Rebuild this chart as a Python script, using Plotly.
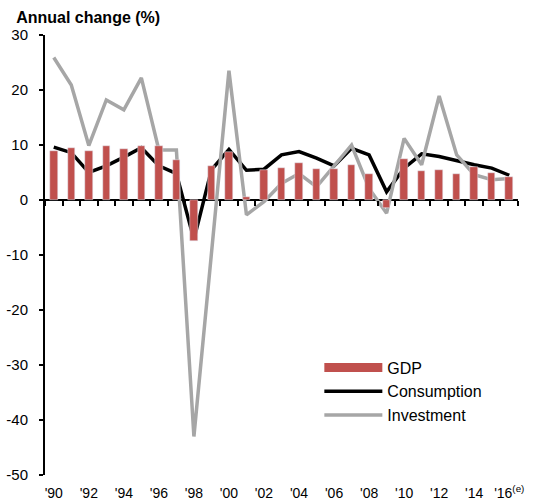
import plotly.graph_objects as go

years = list(range(1990, 2017))
gdp = [9.0, 9.5, 8.9, 9.9, 9.2, 9.8, 9.9, 7.3, -7.4, 6.2, 8.8, 0.5, 5.5, 5.8, 6.8,
       5.6, 5.6, 6.4, 4.8, -1.4, 7.5, 5.3, 5.5, 4.7, 6.0, 4.9, 4.1]
consumption = [9.6, 8.6, 5.0, 6.2, 7.8, 9.5, 6.2, 4.8, -7.2, 5.5, 9.2, 5.4, 5.6, 8.2, 8.8,
               7.6, 6.2, 9.4, 8.2, 1.5, 5.8, 8.4, 7.9, 7.1, 6.4, 5.8, 4.5]
investment = [25.9, 20.9, 9.9, 18.2, 16.4, 22.2, 9.1, 9.1, -43.0, -9.5, 23.5, -2.7, -0.3, 3.0, 4.8,
              2.4, 6.1, 10.0, 2.1, -2.4, 11.2, 6.4, 18.9, 8.2, 4.6, 3.7, 3.9]
tick_years = list(range(1990, 2017, 2))
tick_text = ["'90", "'92", "'94", "'96", "'98", "'00", "'02", "'04", "'06", "'08",
             "'10", "'12", "'14", "'16<sup>(e)</sup>"]
y_ticks = [-50, -40, -30, -20, -10, 0, 10, 20, 30]
y_text = ["-50", "-40", "-30", "-20", "-10", "0", "10", "20", "30"]

RED = "#C0504D"
GRAY = "#A6A6A6"
FONT = "Liberation Sans, Arial, sans-serif"

fig = go.Figure()
fig.add_trace(go.Bar(x=years, y=gdp, name="GDP", marker_color=RED, width=0.43,
                     showlegend=False, xaxis="x2"))
# legend swatch for GDP (wide band like the reference)
fig.add_trace(go.Scatter(x=[None], y=[None], mode="lines", name="GDP",
                         line=dict(color=RED, width=9)))
fig.add_trace(go.Scatter(x=years, y=consumption, mode="lines", name="Consumption",
                         line=dict(color="black", width=3.5)))
fig.add_trace(go.Scatter(x=years, y=investment, mode="lines", name="Investment",
                         line=dict(color=GRAY, width=3.5)))

rng = [1989.5, 2016.5]
fig.update_layout(
    width=538, height=500,
    margin=dict(l=45, r=20, t=35, b=25, autoexpand=False),
    plot_bgcolor="white", paper_bgcolor="white",
    font=dict(family=FONT, size=14, color="black"),
    title=dict(text="<b>Annual change (%)</b>", x=0.03, xanchor="left",
               y=0.966, yanchor="middle", font=dict(size=16, family=FONT)),
    bargap=0,
    xaxis=dict(range=rng, tickvals=tick_years, ticktext=tick_text, showline=False,
               showgrid=False, zeroline=False, ticks="", ticklabelstandoff=8,
               automargin=False, tickfont=dict(size=14)),
    xaxis2=dict(range=rng, overlaying="x", anchor="free", position=0.625,
                tickvals=[y + 0.5 for y in range(1989, 2017)], ticks="outside",
                ticklen=5, tickwidth=1.5, tickcolor="black", showticklabels=False,
                showline=False, showgrid=False, zeroline=False),
    yaxis=dict(range=[-50, 30], tickvals=y_ticks, ticktext=y_text, showline=True,
               linecolor="black", linewidth=2, ticks="outside", ticklen=4,
               tickwidth=1.5, tickcolor="black", showgrid=False, zeroline=True,
               zerolinecolor="black", zerolinewidth=1.5, ticklabelstandoff=8,
               automargin=False, tickfont=dict(size=15)),
    legend=dict(x=0.58, y=0.283, xanchor="left", yanchor="top", bgcolor="rgba(0,0,0,0)",
                font=dict(size=16), itemwidth=58, tracegroupgap=0),
)
fig.write_html("out.html", config={"displayModeBar": False},
               post_script="document.body.style.margin='0';")
